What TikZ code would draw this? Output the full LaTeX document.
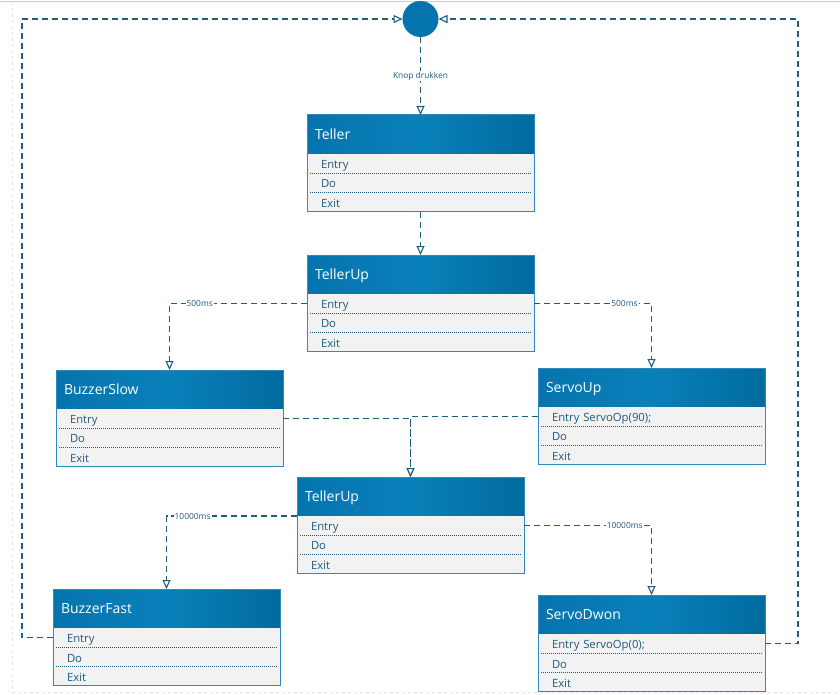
\documentclass[tikz,border=0pt]{standalone}
\usepackage{fontspec}
\setmainfont{Open Sans}
\usetikzlibrary{positioning,arrows.meta}
\definecolor{lijn}{HTML}{1E5F7B}
\definecolor{kopA}{HTML}{0574AE}
\definecolor{kopM}{HTML}{0A80BA}
\definecolor{kopB}{HTML}{006B9F}
\definecolor{rand}{HTML}{3089BB}
\definecolor{tekst}{HTML}{1F5A80}
\definecolor{vlak}{HTML}{F2F2F2}
\newcommand{\toestand}[5]{% naam, x, y, titel, entry
  \node[kop] (#1) at (#2,#3) {#4};
  \node[rij, below=0pt of #1] (#1-en) {#5};
  \node[rij, below=0pt of #1-en] (#1-do) {Do};
  \node[rij, below=0pt of #1-do] (#1-ex) {Exit};
  \draw[kader] (#1.north west) rectangle (#1-ex.south east);
  \draw[scheid] ([xshift=3pt]#1-en.south west) -- ([xshift=-3pt]#1-en.south east);
  \draw[scheid] ([xshift=3pt]#1-do.south west) -- ([xshift=-3pt]#1-do.south east);
}
\begin{document}
\begin{tikzpicture}[x=1pt,y=-1pt,>={Triangle[length=9pt,width=8pt,fill=white]},
  kop/.style={anchor=north west,rectangle,minimum width=227pt,minimum height=39pt,
    text width=211pt,inner xsep=8pt,inner ysep=0pt,outer sep=0pt,align=left,
    left color=kopA,right color=kopB,middle color=kopM,text=white,
    font=\fontsize{14}{16}\selectfont,text height=11pt,text depth=1.5pt},
  rij/.style={rectangle,minimum width=227pt,minimum height=19.33pt,text width=199pt,
    inner xsep=14pt,inner ysep=0pt,outer sep=0pt,align=left,fill=vlak,text=tekst,
    font=\fontsize{11.3}{13}\selectfont,text height=10pt,text depth=0pt},
  kader/.style={draw=rand,line width=1pt},
  scheid/.style={draw=tekst,line width=0.6pt,dash pattern=on 1pt off 1pt},
  pijl/.style={->,draw=lijn,line width=1.1pt,dash pattern=on 6pt off 4pt},
  lbl/.style={fill=white,inner sep=1pt,text=tekst,font=\fontsize{8.4}{10}\selectfont},
  begin/.style={circle,fill=kopA,minimum size=36pt,inner sep=0pt,outer sep=0pt}]
\useasboundingbox (0,0) rectangle (840,695);
\draw[gray!40,line width=1.2pt] (0,1.5) -- (840,1.5); % rand
\draw[gray!20,dashed] (12,2) -- (12,692) -- (840,692);
\node[begin] (start) at (420.5,19) {};
\toestand{tel}{307}{115}{Teller}{Entry}
\toestand{tua}{307}{255}{TellerUp}{Entry}
\toestand{bs}{56}{370}{BuzzerSlow}{Entry}
\toestand{su}{538}{368}{ServoUp}{Entry ServoOp(90);}
\toestand{tub}{297}{477}{TellerUp}{Entry}
\toestand{bf}{53}{589}{BuzzerFast}{Entry}
\toestand{sd}{538}{595}{ServoDwon}{Entry ServoOp(0);}
\coordinate (linksboven) at (22,19);
\coordinate (rechtsboven) at (798,19);
\draw[pijl] (start.south) -- node[lbl]{Knop drukken} (tel.north);
\draw[pijl] (tel-ex.south) -- (tua.north);
\draw[pijl] (tua-en.west) -| node[lbl,pos=.39]{500ms} (bs.north);
\draw[pijl] (tua-en.east) -| node[lbl,pos=.385]{500ms} (su.north);
\draw[pijl] (bs-en.east) -| (tub.north);
\draw[pijl] (su-en.west) -| (tub.north);
\draw[pijl] (tub.south west) -| node[lbl,pos=.4]{10000ms} (bf.north);
\draw[pijl] (tub-en.east) -| node[lbl,pos=.395]{10000ms} (sd.north);
\draw[pijl] (bf-en.west) -| (linksboven) -- (start); % terug naar begin
\draw[pijl] (sd-en.east) -| (rechtsboven) -- (start);
\end{tikzpicture}
\end{document}
